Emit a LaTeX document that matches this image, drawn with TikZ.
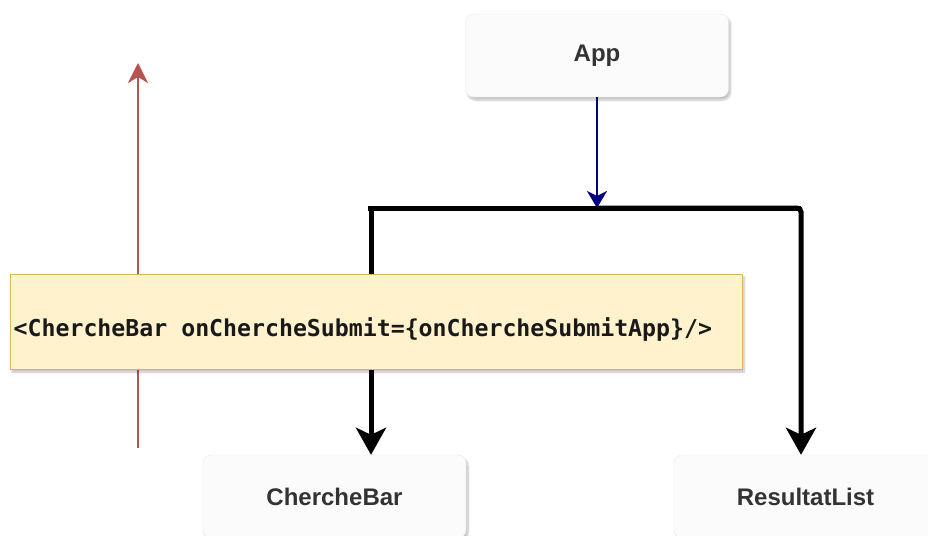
\documentclass[tikz,border=0pt]{standalone}
\usepackage{fontspec}
\setmainfont{Liberation Sans}
\newfontfamily\codefont{DejaVu Sans Mono}
\usetikzlibrary{arrows.meta,shadows.blur}
\definecolor{boxfill}{HTML}{FBFBFB}
\definecolor{boxline}{HTML}{E8E8E8}
\definecolor{labeltext}{HTML}{333333}
\definecolor{notefill}{HTML}{FFF2CC}
\definecolor{noteline}{HTML}{D6B656}
\definecolor{flowblue}{HTML}{000080}
\definecolor{flowred}{HTML}{B85450}
\tikzset{
  compbox/.style={draw=boxline, fill=boxfill, rounded corners=8pt,
    minimum width=263pt, minimum height=83pt, inner sep=0pt,
    font=\fontsize{24}{26}\selectfont\bfseries, text=labeltext,
    blur shadow={shadow xshift=2pt, shadow yshift=-3pt, shadow opacity=25, shadow blur steps=6}},
  notebox/.style={draw=noteline, fill=notefill, line width=1pt,
    minimum width=732pt, minimum height=95pt, inner sep=0pt,
    blur shadow={shadow xshift=2pt, shadow yshift=-3pt, shadow opacity=25, shadow blur steps=6}},
  codetext/.style={font=\codefont\fontsize{23.2}{26}\selectfont\bfseries, text=black!90, inner sep=0pt, anchor=west},
  downlink/.style={draw=flowblue, line width=1.8pt, -{Stealth[length=17pt,width=20pt,inset=5pt]}},
  bus/.style={draw=black, line width=5pt, -{Stealth[length=27pt,width=30pt,inset=7pt]}},
  uplink/.style={draw=flowred, line width=2.2pt, -{Stealth[length=20pt,width=20pt,inset=6pt]}},
}
\begin{document}
\begin{tikzpicture}[x=1pt, y=-1pt]
  \useasboundingbox (0,0) rectangle (928,535);
  \clip (0,0) rectangle (928,535);

  % components
  \node[compbox] (app)   at (597,55.5)  {App};
  \node[compbox] (cbar)  at (334.5,496.5) {ChercheBar};
  \node[compbox] (rlist) at (805.5,496.5) {ResultatList};

  % junction below App and the feet of the two branches
  \coordinate (split) at (597,208);
  \coordinate (lfoot) at (371,208);
  \coordinate (rfoot) at (801,208);
  \coordinate (upstart) at (138,448);
  \coordinate (upend)   at (138,63);

  % props flowing down, callback flowing up
  \draw[downlink] (app.south) -- (split);
  \draw[uplink] (upstart) -- (upend);
  \draw[bus, -] (368,208) -- (split) -- (rfoot);
  \draw[bus] (lfoot) -- (lfoot |- cbar.north);
  \draw[bus, rounded corners=4pt] (split) -| (rfoot |- rlist.north);

  % the JSX snippet on top of the wiring
  \node[notebox] (code) at (376,321.5) {};
  \node[codetext] (snippet) at ([xshift=4pt, yshift=-8pt]code.west)
    {<ChercheBar onChercheSubmit=\{onChercheSubmitApp\}/>};
\end{tikzpicture}
\end{document}
